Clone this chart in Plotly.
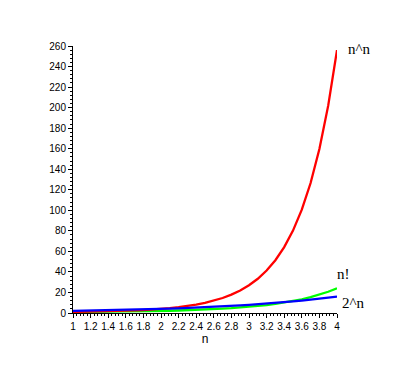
import plotly.graph_objects as go

n_values = [1.0, 1.1, 1.2, 1.3, 1.4, 1.5, 1.6, 1.7, 1.8, 1.9, 2.0,
            2.1, 2.2, 2.3, 2.4, 2.5, 2.6, 2.7, 2.8, 2.9, 3.0,
            3.1, 3.2, 3.3, 3.4, 3.5, 3.6, 3.7, 3.8, 3.9, 4.0]

n_pow_n = [1.0, 1.11, 1.24, 1.41, 1.60, 1.84, 2.12, 2.46, 2.88, 3.39, 4.0,
           4.75, 5.67, 6.79, 8.18, 9.88, 11.99, 14.61, 17.87, 21.93, 27.0,
           33.36, 41.35, 51.42, 64.13, 80.21, 100.62, 126.6, 159.7, 201.9, 256.0]

n_fact = [1.0, 1.05, 1.10, 1.17, 1.24, 1.33, 1.43, 1.54, 1.68, 1.83, 2.0,
          2.20, 2.42, 2.68, 2.98, 3.32, 3.72, 4.17, 4.69, 5.30, 6.0,
          6.81, 7.76, 8.86, 10.14, 11.63, 13.38, 15.43, 17.84, 20.67, 24.0]

two_pow_n = [2.0, 2.14, 2.30, 2.46, 2.64, 2.83, 3.03, 3.25, 3.48, 3.73, 4.0,
             4.29, 4.59, 4.92, 5.28, 5.66, 6.06, 6.50, 6.96, 7.46, 8.0,
             8.57, 9.19, 9.85, 10.56, 11.31, 12.13, 13.00, 13.93, 14.93, 16.0]

x_tick_vals = [1, 1.2, 1.4, 1.6, 1.8, 2, 2.2, 2.4, 2.6, 2.8, 3, 3.2, 3.4, 3.6, 3.8, 4]
x_tick_text = ["1", "1.2", "1.4", "1.6", "1.8", "2", "2.2", "2.4", "2.6", "2.8",
               "3", "3.2", "3.4", "3.6", "3.8", "4"]
y_tick_vals = list(range(0, 261, 20))

curve_labels = ["n^n", "n!", "2^n"]
label_px = [1.033, 0.992, 1.011]
label_py = [0.989, 0.146, 0.037]

fig = go.Figure()
fig.add_trace(go.Scatter(x=n_values, y=n_fact, mode="lines",
                         line=dict(color="#00ff00", width=2.3), showlegend=False))
fig.add_trace(go.Scatter(x=n_values, y=n_pow_n, mode="lines",
                         line=dict(color="#ff0000", width=2.3), showlegend=False))
fig.add_trace(go.Scatter(x=n_values, y=two_pow_n, mode="lines",
                         line=dict(color="#0000ff", width=2.3), showlegend=False))

for txt, xx, yy in zip(curve_labels, label_px, label_py):
    fig.add_annotation(x=xx, y=yy, text=txt, showarrow=False, xanchor="left",
                       yanchor="middle", xref="paper", yref="paper",
                       font=dict(family="Liberation Serif", size=15, color="black"))

fig.update_layout(
    width=410, height=366, autosize=False,
    margin=dict(l=65, r=81, t=38, b=61),
    paper_bgcolor="white", plot_bgcolor="white",
    font=dict(family="Liberation Sans", size=10, color="black"),
    xaxis=dict(range=[1, 4], showgrid=False, zeroline=False, showline=True,
               linecolor="black", linewidth=1, ticks="outside", ticklen=4,
               tickcolor="black", tickvals=x_tick_vals, ticktext=x_tick_text,
               tickfont=dict(size=10),
               minor=dict(dtick=0.04, ticks="outside", ticklen=2, tickcolor="black"),
               title=dict(text="n", font=dict(size=12), standoff=2)),
    yaxis=dict(range=[0, 260], showgrid=False, zeroline=False, showline=True,
               linecolor="black", linewidth=1, ticks="outside", ticklen=4,
               tickcolor="black", tickvals=y_tick_vals, tickfont=dict(size=10),
               minor=dict(dtick=4, ticks="outside", ticklen=2, tickcolor="black")),
)

fig.write_html("out.html")
